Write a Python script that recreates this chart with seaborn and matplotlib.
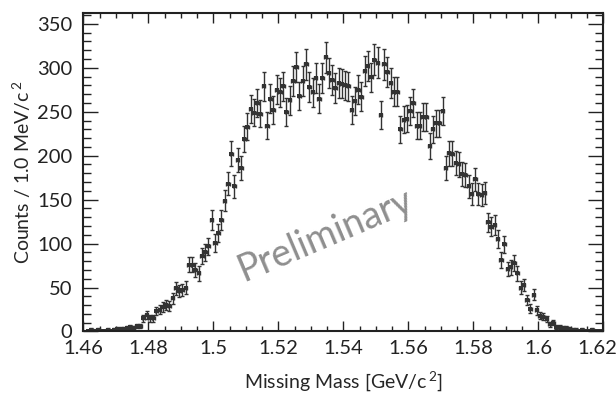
import numpy as np
import seaborn as sns
import matplotlib.pyplot as plt
from matplotlib.ticker import MultipleLocator
from matplotlib.transforms import ScaledTranslation

# histogram: 1.0 MeV bins from 1.46 to 1.62 GeV/c^2
bin_lo = 1.46
bin_width = 0.001

counts_low = [0, 1, 2, 1, 2, 1, 1, 2, 1, 2, 3, 3, 3, 4, 5, 4, 6, 6]
counts_rise = [15, 19, 15, 15, 23, 25, 28, 30, 29, 38, 49, 46, 47, 50,
               76, 76, 70, 66, 86, 90, 97, 127, 101, 112, 127, 149, 168,
               202, 165, 195, 186, 219, 233, 253, 249, 260, 248, 279, 234]
counts_top = [265, 252, 275, 272, 279, 250, 263, 285, 301, 268,
              285, 304, 278, 272, 288, 265, 288, 312, 294, 286,
              277, 283, 282, 280, 279, 252,
              262, 275, 267, 296, 302, 289, 309, 306, 246, 304,
              295, 283, 273, 273, 230, 241, 242, 251, 260, 234,
              234, 244, 244, 211, 230, 237, 237, 251]
counts_fall = [186, 203, 202, 192, 190, 179, 178, 165, 156, 173,
               156, 155, 158, 124, 119, 121, 105, 81, 99, 71,
               73, 78, 66, 50, 53, 36, 26, 42, 24]
counts_tail = [18, 17, 14, 8, 10, 5, 5, 4, 4, 3, 2, 2, 1, 2, 1, 1, 2, 1, 1, 1]

xtick_vals = [1.46, 1.48, 1.5, 1.52, 1.54, 1.56, 1.58, 1.6, 1.62]
xtick_labels = ['1.46', '1.48', '1.5', '1.52', '1.54', '1.56', '1.58', '1.6', '1.62']

counts = np.array(counts_low + counts_rise + counts_top + counts_fall + counts_tail, dtype=float)
centers = bin_lo + bin_width * (np.arange(len(counts)) + 0.5)
errors = np.sqrt(counts)

sns.set_theme(style="ticks")
plt.rcParams['font.family'] = ['Lato', 'DejaVu Sans']
plt.rcParams['mathtext.default'] = 'regular'

fig = plt.figure(figsize=(6.16, 3.95), dpi=100)
ax = fig.add_axes([0.1352, 0.1608, 0.8445, 0.8055])

nz = counts > 0
ax.errorbar(centers[nz], counts[nz], yerr=errors[nz], xerr=bin_width / 2,
            fmt='none', ecolor='#333333', elinewidth=1.0, capsize=1.6, capthick=1.0)
sns.scatterplot(x=centers[nz], y=counts[nz], marker='s', s=5, color='#333333',
                linewidth=0, ax=ax, legend=False)

ax.text(1.5345, 110, 'Preliminary', rotation=23, fontsize=27, color='#8f8f8f',
        ha='center', va='center')

ax.set_xlim(1.46, 1.62)
ax.set_ylim(0, 362)
ax.xaxis.set_minor_locator(MultipleLocator(0.005))
ax.yaxis.set_major_locator(MultipleLocator(50))
ax.yaxis.set_minor_locator(MultipleLocator(10))
ax.set_xticks(xtick_vals)
ax.set_xticklabels(xtick_labels)

ax.tick_params(which='both', direction='in', top=True, right=True, colors='#222222',
               labelsize=14.5, width=1.0)
ax.xaxis.set_tick_params(which='major', length=7, pad=6)
ax.xaxis.set_tick_params(which='minor', length=3.5)
ax.yaxis.set_tick_params(which='major', length=11, pad=8)
ax.yaxis.set_tick_params(which='minor', length=6)
for s in ax.spines.values():
    s.set_linewidth(1.5)
    s.set_color('#222222')

# keep the last x label inside the canvas, as in the original
last = ax.get_xticklabels()[-1]
last.set_transform(last.get_transform() + ScaledTranslation(-6 / 100, 0, fig.dpi_scale_trans))

ax.set_xlabel('Missing Mass [GeV/c$^{\\,2}$]', fontsize=14, labelpad=9)
ax.set_ylabel('Counts / 1.0 MeV/c$^{\\,2}$', fontsize=14, labelpad=3)

fig.savefig('out.png', dpi=100)
